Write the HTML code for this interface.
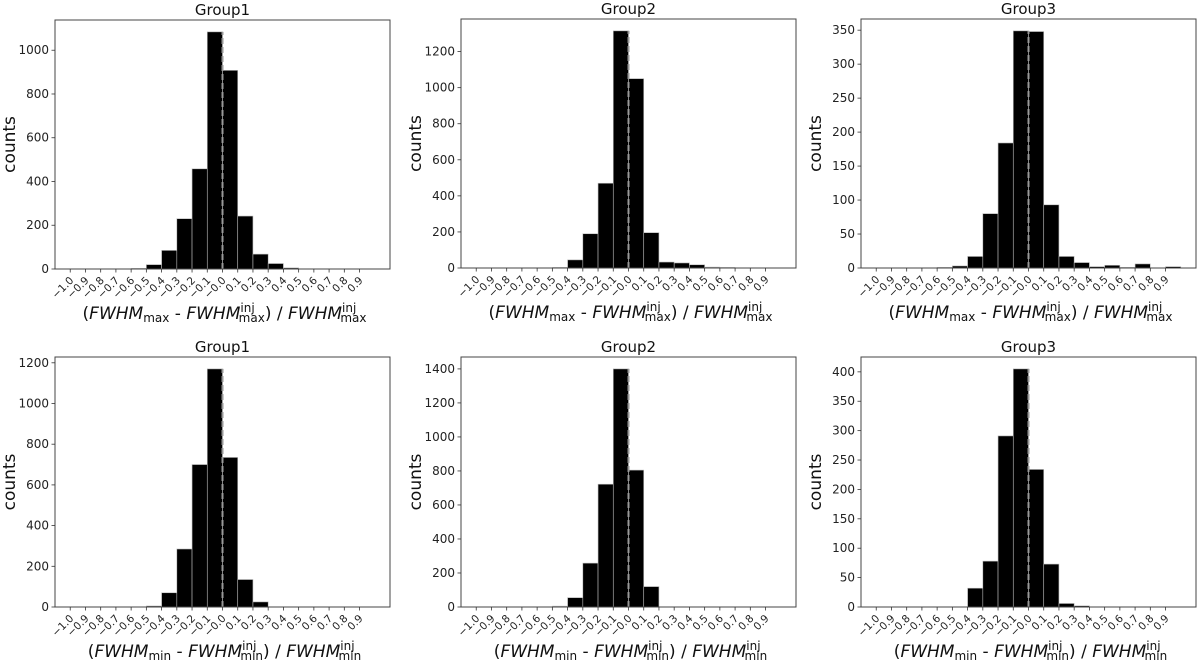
<!DOCTYPE html>
<html><head><meta charset="utf-8"><style>
html,body{margin:0;padding:0;background:#fff;}
svg{display:block;font-family:"DejaVu Sans","Liberation Sans",sans-serif;}
</style></head><body>
<svg id="fig" width="1200" height="666" viewBox="0 0 1200 666" xmlns="http://www.w3.org/2000/svg"></svg>
<script>
// bin left edges: -1.0 .. 0.9 step 0.1 (20 bins)
const binEdges = [-1.0,-0.9,-0.8,-0.7,-0.6,-0.5,-0.4,-0.3,-0.2,-0.1,0.0,0.1,0.2,0.3,0.4,0.5,0.6,0.7,0.8,0.9,1.0];
const xTickLabels = ["\u22121.0","\u22120.9","\u22120.8","\u22120.7","\u22120.6","\u22120.5","\u22120.4","\u22120.3","\u22120.2","\u22120.1","\u22120.0","0.1","0.2","0.3","0.4","0.5","0.6","0.7","0.8","0.9"];
const countsMaxG1 = [0,0,0,0,3,20,85,230,458,1084,908,242,68,25,5,0,0,0,0,0];
const countsMaxG2 = [0,0,0,0,0,3,45,190,470,1315,1050,196,33,28,18,5,3,0,0,0];
const countsMaxG3 = [0,0,0,0,1,3,17,80,184,349,348,93,17,8,2,4,1,6,0,2];
const countsMinG1 = [0,0,0,0,0,5,70,285,700,1170,735,135,25,0,0,0,0,0,0,0];
const countsMinG2 = [0,0,0,0,0,5,55,258,722,1400,805,120,0,0,0,0,0,0,0,0];
const countsMinG3 = [0,0,0,0,0,0,32,78,291,405,234,73,6,2,0,0,0,0,0,0];
const titles = ["Group1","Group2","Group3","Group1","Group2","Group3"];
const yTickStepG = [200,200,50,200,200,50];

const NS="http://www.w3.org/2000/svg";
const svg=document.getElementById('fig');
function mk(tag,attrs,parent){const e=document.createElementNS(NS,tag);for(const k in attrs)e.setAttribute(k,attrs[k]);(parent||svg).appendChild(e);return e;}

const panels=[
 {c:countsMaxG1,L:55,R:390,T:20,B:269,sub:"max"},
 {c:countsMaxG2,L:461,R:796,T:19,B:268,sub:"max"},
 {c:countsMaxG3,L:861,R:1196,T:19,B:268,sub:"max"},
 {c:countsMinG1,L:55,R:390,T:357,B:607,sub:"min"},
 {c:countsMinG2,L:461,R:796,T:357,B:607,sub:"min"},
 {c:countsMinG3,L:861,R:1196,T:357,B:607,sub:"min"}
];

panels.forEach((p,pi)=>{
  const g=mk('g',{});
  
  
  const ymax=Math.max(...p.c)*1.05;
  const xs=v=>p.L+(v+1.1)/2.2*(p.R-p.L);
  const ys=v=>p.B-v/ymax*(p.B-p.T);
  // bars
  p.c.forEach((v,i)=>{
    if(v<=0)return;
    const x0=xs(binEdges[i]),x1=xs(binEdges[i+1]);
    const r=mk('rect',{x:x0,y:ys(v),width:x1-x0,height:p.B-ys(v),fill:'#000',stroke:'#bbb','stroke-width':0.6},g);
    
    
  });
  // dashed zero line
  const dl=mk('line',{x1:xs(0),x2:xs(0),y1:p.B,y2:ys(Math.max(...p.c)),stroke:'#999','stroke-width':2,'stroke-dasharray':'6,3'},g);
  
  
  // frame
  const fr=mk('rect',{x:p.L,y:p.T,width:p.R-p.L,height:p.B-p.T,fill:'none',stroke:'#444','stroke-width':1},g);
  
  
  // x ticks
  xTickLabels.forEach((lab,i)=>{
    const x=xs(binEdges[i]);
    mk('line',{x1:x,x2:x,y1:p.B,y2:p.B+3.5,stroke:'#333','stroke-width':0.8},g);
    const t=mk('text',{x:x+4,y:p.B+12,'font-size':10.5,'text-anchor':'end',fill:'#222',transform:`rotate(-45 ${x+4} ${p.B+12})`},g);
    t.textContent=lab;
    
    
  });
  // y ticks
  const st=yTickStepG[pi];
  for(let v=0;v<=ymax;v+=st){
    const y=ys(v);
    mk('line',{x1:p.L-3.5,x2:p.L,y1:y,y2:y,stroke:'#333','stroke-width':0.8},g);
    const t=mk('text',{x:p.L-6,y:y+4,'font-size':12,'text-anchor':'end',fill:'#222'},g);
    t.textContent=v;
    
    
  }
  // title
  const tt=mk('text',{x:(p.L+p.R)/2,y:p.T-5,'font-size':15,'text-anchor':'middle',fill:'#111'},g);
  tt.textContent=titles[pi];
  
  
  // y label
  const yl=mk('text',{x:p.L-40,y:(p.T+p.B)/2,'font-size':17,'text-anchor':'middle',fill:'#111',transform:`rotate(-90 ${p.L-40} ${(p.T+p.B)/2})`},g);
  yl.textContent='counts';
  
  
  // x label
  const xl=mk('text',{x:(p.L+p.R)/2+2,y:p.B+50,'font-size':17,'text-anchor':'middle',fill:'#111'},g);
  
  
  const s=p.sub;
  xl.innerHTML=`(<tspan font-style="italic">FWHM</tspan><tspan font-size="12" dy="3">${s}</tspan><tspan dy="-3"> - </tspan><tspan font-style="italic">FWHM</tspan><tspan font-size="12" dy="-7">inj</tspan><tspan font-size="12" dx="-16" dy="10">${s}</tspan><tspan dy="-3">) / </tspan><tspan font-style="italic">FWHM</tspan><tspan font-size="12" dy="-7">inj</tspan><tspan font-size="12" dx="-16" dy="10">${s}</tspan>`;
});
</script>
</body></html>
